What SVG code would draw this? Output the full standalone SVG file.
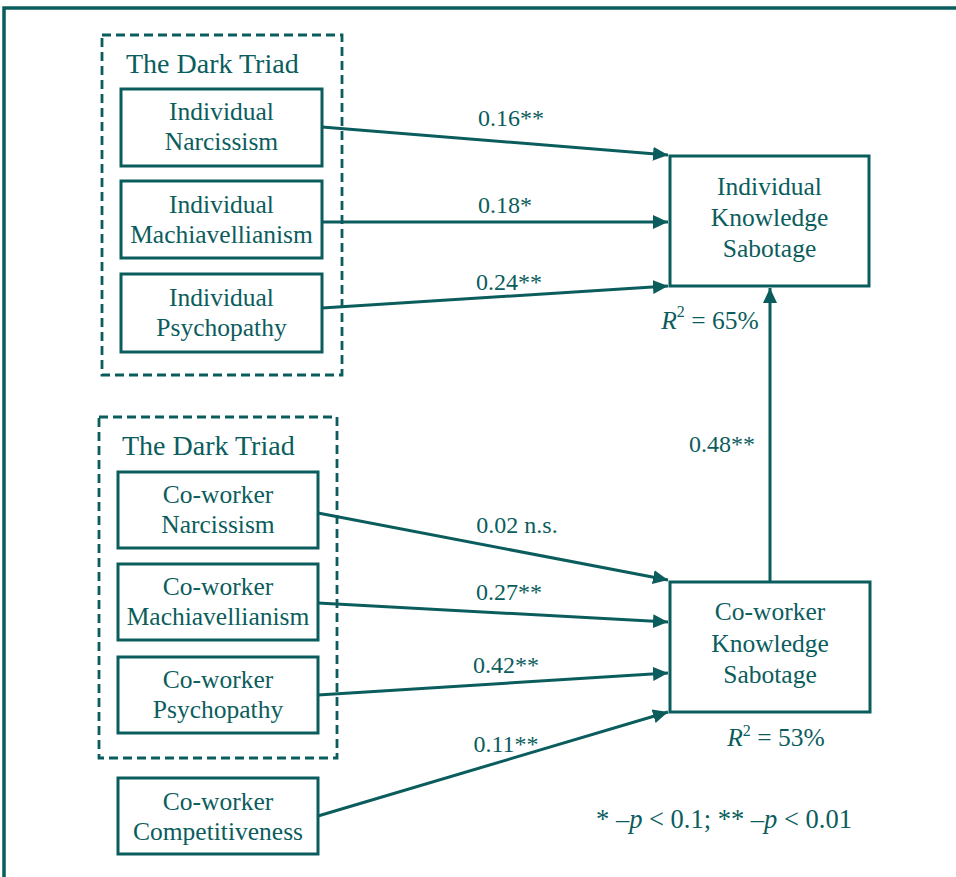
<svg xmlns="http://www.w3.org/2000/svg" width="956" height="877" viewBox="0 0 956 877">
<defs>
<style>
.t{font-family:"Liberation Serif","Times New Roman",serif;fill:#0b5d5d;text-anchor:middle}
.n{font-size:25.5px}
.ttl{font-size:28px;text-anchor:start}
.lbl{font-size:24px}
.r2{font-size:25.5px}
.leg{font-size:26.5px}
.box{fill:#fff;stroke:#0b5d5d;stroke-width:3}
.dash{fill:none;stroke:#0b5d5d;stroke-width:2.8;stroke-dasharray:9 5}
.c{fill:none;stroke:#0b5d5d;stroke-width:3;marker-end:url(#ah)}
</style>
<marker id="ah" markerUnits="userSpaceOnUse" markerWidth="16" markerHeight="14" refX="15" refY="7" orient="auto">
<path d="M0,0 L15,7 L0,14 Z" fill="#0b5d5d"/>
</marker>
</defs>
<rect width="956" height="877" fill="#fff"/>
<path d="M4,877 V8 H956" fill="none" stroke="#0b5d5d" stroke-width="3.5"/>

<g id="triad1">
<rect class="dash" x="102" y="35" width="240" height="340"/>
<text class="t ttl" x="126" y="73">The Dark Triad</text>
</g>
<g id="triad2">
<rect class="dash" x="99" y="417" width="238" height="341"/>
<text class="t ttl" x="122" y="455">The Dark Triad</text>
</g>

<g id="connectors">
<line class="c" x1="322" y1="127" x2="668" y2="155"/>
<line class="c" x1="322" y1="222" x2="668" y2="222"/>
<line class="c" x1="322" y1="308" x2="668" y2="286"/>
<line class="c" x1="318" y1="513" x2="668" y2="580"/>
<line class="c" x1="318" y1="603" x2="668" y2="622"/>
<line class="c" x1="318" y1="695" x2="668" y2="673"/>
<line class="c" x1="318" y1="816" x2="668" y2="712"/>
<line class="c" x1="770" y1="582" x2="770" y2="288"/>
<text class="t lbl" x="511" y="126">0.16**</text>
<text class="t lbl" x="505" y="213">0.18*</text>
<text class="t lbl" x="509" y="290">0.24**</text>
<text class="t lbl" x="517" y="533">0.02 n.s.</text>
<text class="t lbl" x="509" y="600">0.27**</text>
<text class="t lbl" x="506" y="673">0.42**</text>
<text class="t lbl" x="506" y="752">0.11**</text>
<text class="t lbl" x="722" y="452">0.48**</text>
</g>

<g id="ind-narc">
<rect class="box" x="121" y="89" width="201" height="77"/>
<text class="t n" x="221.5" y="120">Individual</text>
<text class="t n" x="221.5" y="150">Narcissism</text>
</g>
<g id="ind-mach">
<rect class="box" x="121" y="181" width="201" height="77"/>
<text class="t n" x="221.5" y="213">Individual</text>
<text class="t n" x="221.5" y="243">Machiavellianism</text>
</g>
<g id="ind-psych">
<rect class="box" x="121" y="274" width="201" height="78"/>
<text class="t n" x="221.5" y="306">Individual</text>
<text class="t n" x="221.5" y="336">Psychopathy</text>
</g>

<g id="cw-narc">
<rect class="box" x="118" y="472" width="200" height="76"/>
<text class="t n" x="218" y="503">Co-worker</text>
<text class="t n" x="218" y="533">Narcissism</text>
</g>
<g id="cw-mach">
<rect class="box" x="118" y="564" width="200" height="76"/>
<text class="t n" x="218" y="595">Co-worker</text>
<text class="t n" x="218" y="625">Machiavellianism</text>
</g>
<g id="cw-psych">
<rect class="box" x="118" y="657" width="200" height="76"/>
<text class="t n" x="218" y="688">Co-worker</text>
<text class="t n" x="218" y="718">Psychopathy</text>
</g>
<g id="cw-comp">
<rect class="box" x="118" y="778" width="200" height="76"/>
<text class="t n" x="218" y="810">Co-worker</text>
<text class="t n" x="218" y="840">Competitiveness</text>
</g>

<g id="ind-ks">
<rect class="box" x="670" y="156" width="199" height="130"/>
<text class="t n" x="769.5" y="195">Individual</text>
<text class="t n" x="769.5" y="226">Knowledge</text>
<text class="t n" x="769.5" y="257">Sabotage</text>
<text class="t r2" x="710" y="329"><tspan font-style="italic">R</tspan><tspan font-size="16" dy="-12">2</tspan><tspan dy="12"> = 65%</tspan></text>
</g>
<g id="cw-ks">
<rect class="box" x="670" y="582" width="200" height="130"/>
<text class="t n" x="770" y="620">Co-worker</text>
<text class="t n" x="770" y="652">Knowledge</text>
<text class="t n" x="770" y="683">Sabotage</text>
<text class="t r2" x="776" y="746"><tspan font-style="italic">R</tspan><tspan font-size="16" dy="-10">2</tspan><tspan dy="10"> = 53%</tspan></text>
</g>

<text class="t leg" x="724" y="828">* –<tspan font-style="italic">p</tspan> &lt; 0.1; ** –<tspan font-style="italic">p</tspan> &lt; 0.01</text>
</svg>
